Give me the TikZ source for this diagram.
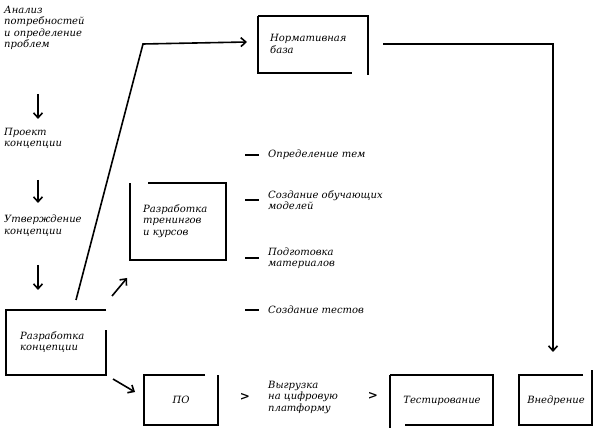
\documentclass[tikz,border=0pt]{standalone}
\usepackage{fontspec}
\setmainfont{DejaVu Serif}
\usetikzlibrary{arrows.meta}
\begin{document}
\begin{tikzpicture}[x=1pt,y=-1pt,
 ln/.style={line width=1.6pt},
 ar/.style={line width=1.6pt,-{Straight Barb[length=5pt,width=9pt]}},
 t/.style={font=\itshape\fontsize{10}{11.5}\selectfont,align=left,anchor=west,inner sep=0pt},
 dsh/.style={line width=1.6pt}]
\useasboundingbox (0,0) rectangle (600,430);
% left column
\node[t,anchor=north west] (a1) at (4,6) {Анализ\\потребностей\\и определение\\проблем};
\node[t,anchor=north west] (a2) at (4,128) {Проект\\концепции};
\node[t,anchor=north west] (a3) at (4,215) {Утверждение\\концепции};
\coordinate (d1s) at (38,94); \coordinate (d1e) at (38,119);
\coordinate (d2s) at (38,180); \coordinate (d2e) at (38,203);
\coordinate (d3s) at (38,265); \coordinate (d3e) at (38,290);
\draw[ar] (d1s) -- (d1e);
\draw[ar] (d2s) -- (d2e);
\draw[ar] (d3s) -- (d3e);
% концепция box
\draw[ln] (106,310) -- (6,310) -- (6,375) -- (106,375) -- (106,330);
\node[t] (kc) at (20,342) {Разработка\\концепции};
% long line
\coordinate (l0) at (76,300); \coordinate (l1) at (143,44); \coordinate (l2) at (247,42);
\draw[ar] (l0) -- (l1) -- (l2);
% Нормативная база
\draw[ln] (258,16) -- (368,16) -- (368,75);
\draw[ln] (258,16) -- (258,73) -- (352,73);
\node[t] (nb) at (270,44) {Нормативная\\база};
\coordinate (n0) at (383,44); \coordinate (n1) at (553,44); \coordinate (n2) at (553,352);
\draw[ar] (n0) -- (n1) -- (n2);
% тренинги
\draw[ln] (148,183) -- (226,183) -- (226,260) -- (130,260) -- (130,183);
\node[t] (tr) at (143,221) {Разработка\\тренингов\\и курсов};
\coordinate (s1) at (112,296); \coordinate (s2) at (127,278);
\draw[ar] (s1) -- (s2);
\coordinate (s3) at (113,379); \coordinate (s4) at (135,392);
\draw[ar] (s3) -- (s4);
% list
\foreach \y/\txt in {155/{Определение тем},200/{Создание обучающих\\моделей},258/{Подготовка\\материалов},310/{Создание тестов}}{
 \draw[dsh] (245,\y) -- (259,\y);
 \node[t] at (268,\y) {\txt};}
% ПО
\draw[ln] (205,375) -- (144,375) -- (144,425) -- (218,425) -- (218,375);
\node[font=\itshape\fontsize{10}{11.5}\selectfont] (po) at (181,400) {ПО};
\node[font=\bfseries\fontsize{12}{12}\selectfont] (c1) at (245,397) {>};
\node[t] (vy) at (268,397) {Выгрузка\\на цифровую\\платформу};
\node[font=\bfseries\fontsize{12}{12}\selectfont] (c2) at (373,396) {>};
% Тестирование
\draw[ln] (390,375) -- (493,375) -- (493,425) -- (405,425);
\draw[ln] (390,375) -- (390,428);
\node[font=\itshape\fontsize{10}{11.5}\selectfont] (ts) at (442,401) {Тестирование};
% Внедрение
\draw[ln] (583,375) -- (519,375) -- (519,425) -- (592,425) -- (592,370);
\node[font=\itshape\fontsize{10}{11.5}\selectfont] (vn) at (556,401) {Внедрение};
\end{tikzpicture}
\end{document}
